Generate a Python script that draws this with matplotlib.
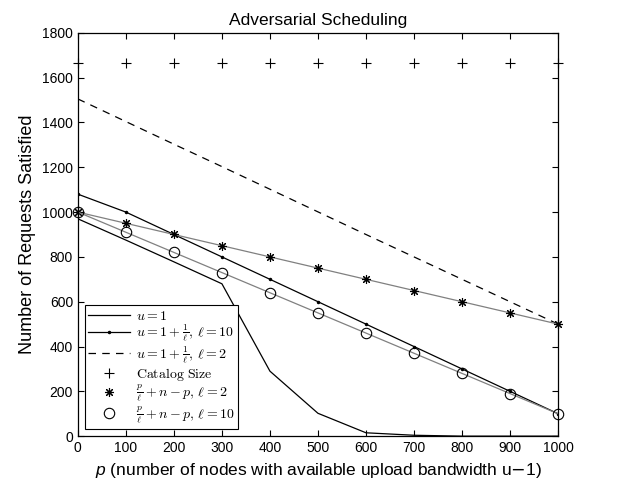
import numpy as np
import matplotlib
matplotlib.use("Agg")
import matplotlib.pyplot as plt

plt.rcParams['font.family'] = ['Liberation Sans', 'DejaVu Sans']
plt.rcParams['mathtext.fontset'] = 'cm'
plt.rcParams['mathtext.it'] = 'Liberation Sans:italic'

# datos
p = [0, 100, 200, 300, 400, 500, 600, 700, 800, 900, 1000]
u_1 = [970, 875, 778, 680, 290, 102, 15, 4, 0, 0, 0]
u_l10 = [1080, 1000, 900, 800, 700, 600, 500, 400, 300, 200, 100]
u_l2 = [1505, 1404, 1303, 1203, 1102, 1001, 900, 800, 700, 600, 500]
catalogo = [1666.7] * 11
cota_l2 = [1000, 950, 900, 850, 800, 750, 700, 650, 600, 550, 500]
cota_l10 = [1000, 910, 820, 730, 640, 550, 460, 370, 280, 190, 100]

fig = plt.figure(figsize=(6.18, 4.83), dpi=100)
ax = fig.add_axes([0.126, 0.097, 0.777, 0.835])

ax.plot(p, u_1, '-', color='black', lw=0.9, label=r'$u=1$')
ax.plot(p, u_l10, '-', color='black', lw=0.9, marker='.', ms=3,
        label=r'$u=1+\frac{1}{\ell},\,\ell=10$')
ax.plot(p, u_l2, '--', color='black', lw=0.9, dashes=(6, 5),
        label=r'$u=1+\frac{1}{\ell},\,\ell=2$')
ax.plot(p, catalogo, '+', color='black', ms=7, mew=0.8, clip_on=False,
        label=r'$\mathrm{Catalog\ Size}$')
ax.plot(p, cota_l2, '-', color='#808080', lw=0.9)
ax.plot(p, cota_l2, ' ', color='black', marker=(8, 2, 0), ms=6.5, mew=0.8,
        clip_on=False, label=r'$\frac{p}{\ell}+n-p,\,\ell=2$')
ax.plot(p, cota_l10, '-', color='#808080', lw=0.9)
ax.plot(p, cota_l10, ' ', marker='o', ms=7.5, mfc='none', mec='black', mew=0.8,
        clip_on=False, label=r'$\frac{p}{\ell}+n-p,\,\ell=10$')

ax.set_xlim(0, 1000)
ax.set_ylim(0, 1800)
ax.set_xticks(range(0, 1001, 100))
ax.set_yticks(range(0, 1801, 200))
ax.tick_params(direction='in', top=True, right=True, labelsize=10, length=4)
for s in ax.spines.values():
    s.set_linewidth(0.9)

ax.set_title('Adversarial Scheduling', fontsize=12.5)
ax.set_ylabel('Number of Requests Satisfied', fontsize=13)
xl = ax.set_xlabel(r'$p$ (number of nodes with available upload bandwidth u$-$1)', fontsize=12.5)
xl.set_math_fontfamily('custom')

leg = ax.legend(loc='lower left', fontsize=10, frameon=True, fancybox=False,
                edgecolor='black', framealpha=1, handlelength=3.0,
                borderaxespad=0.5, labelspacing=0.0, borderpad=0.25,
                handletextpad=0.4)
leg.get_frame().set_linewidth(0.8)

fig.savefig('out.png', dpi=100)
